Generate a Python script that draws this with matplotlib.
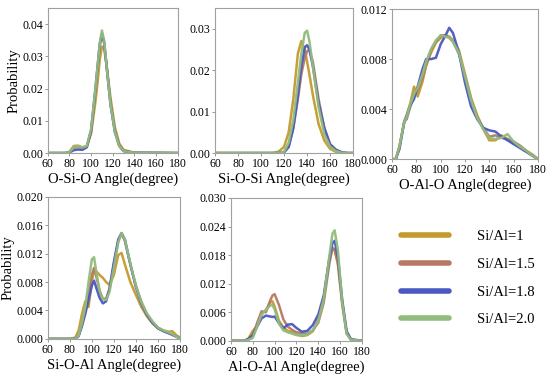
import matplotlib
matplotlib.use("Agg")
import matplotlib.pyplot as plt
from matplotlib.lines import Line2D

plt.rcParams["font.family"] = ["Liberation Serif", "DejaVu Serif"]

series_labels = ["Si/Al=1", "Si/Al=1.5", "Si/Al=1.8", "Si/Al=2.0"]
series_colors = ["#C49A2C", "#B47A66", "#4A58C2", "#92BC7E"]

# O-Si-O
osio_x = [60, 70, 76, 80, 84, 88, 92, 96, 100, 104, 106, 108, 110, 112, 114, 118, 122, 126, 130, 140, 180]
osio_y = [
    [0, 0, 0, 0.0004, 0.0022, 0.0023, 0.0018, 0.0021, 0.006, 0.016, 0.022, 0.029, 0.033, 0.0325, 0.028, 0.017, 0.008, 0.003, 0.001, 0.0001, 0],
    [0, 0, 0, 0.0003, 0.0016, 0.0019, 0.0015, 0.0020, 0.0068, 0.019, 0.026, 0.033, 0.037, 0.034, 0.028, 0.015, 0.0068, 0.0024, 0.0007, 0.0001, 0],
    [0, 0, 0, 0.0002, 0.0009, 0.0011, 0.0010, 0.0018, 0.0070, 0.020, 0.027, 0.034, 0.037, 0.0345, 0.028, 0.015, 0.0065, 0.0022, 0.0006, 0.0001, 0],
    [0, 0, 0, 0.0003, 0.0018, 0.0021, 0.0017, 0.0022, 0.0075, 0.020, 0.027, 0.034, 0.038, 0.035, 0.028, 0.015, 0.0065, 0.0022, 0.0006, 0.0001, 0],
]

# Si-O-Si
siosi_x = [60, 110, 115, 120, 124, 128, 132, 135, 138, 140, 142, 145, 150, 155, 160, 165, 170, 175, 180]
siosi_y = [
    [0, 0, 0.0003, 0.0015, 0.005, 0.013, 0.024, 0.027, 0.025, 0.022, 0.019, 0.014, 0.007, 0.003, 0.001, 0.0003, 0, 0, 0],
    [0, 0, 0, 0.0002, 0.0015, 0.006, 0.013, 0.019, 0.023, 0.0245, 0.025, 0.022, 0.013, 0.006, 0.0022, 0.0008, 0.0002, 0, 0],
    [0, 0, 0, 0.0002, 0.0015, 0.006, 0.014, 0.021, 0.0255, 0.026, 0.025, 0.021, 0.012, 0.006, 0.002, 0.0008, 0.0002, 0, 0],
    [0, 0, 0, 0.0003, 0.0025, 0.008, 0.017, 0.024, 0.029, 0.0295, 0.027, 0.021, 0.011, 0.0045, 0.0015, 0.0005, 0.0001, 0, 0],
]

# O-Al-O
oalo_x = [60, 63, 66, 70, 72, 75, 78, 81, 85, 88, 92, 96, 100, 104, 107, 110, 115, 120, 125, 130, 135, 140, 145, 150, 155, 160, 165, 170, 175, 180]
oalo_y = [
    [0, 0, 0.001, 0.003, 0.0035, 0.0045, 0.0058, 0.005, 0.0062, 0.0075, 0.0085, 0.0093, 0.0097, 0.0099, 0.0098, 0.0095, 0.0087, 0.0068, 0.0049, 0.0035, 0.0024, 0.0015, 0.0015, 0.0019, 0.0016, 0.0013, 0.0010, 0.0007, 0.0004, 0],
    [0, 0, 0.001, 0.003, 0.0032, 0.0042, 0.0052, 0.0055, 0.0065, 0.0075, 0.0087, 0.0094, 0.0099, 0.0099, 0.0097, 0.0094, 0.0084, 0.0066, 0.0047, 0.0034, 0.0025, 0.0018, 0.0019, 0.0017, 0.0016, 0.0014, 0.0011, 0.0007, 0.0003, 0],
    [0, 0, 0.0008, 0.003, 0.0035, 0.0043, 0.0048, 0.0058, 0.0072, 0.0080, 0.0080, 0.0081, 0.0092, 0.0099, 0.0105, 0.0101, 0.0085, 0.0061, 0.0042, 0.0032, 0.0025, 0.0023, 0.0022, 0.0018, 0.0015, 0.0012, 0.0009, 0.0006, 0.0003, 0],
    [0, 0, 0.001, 0.003, 0.0034, 0.0044, 0.0052, 0.0057, 0.0068, 0.0078, 0.0088, 0.0095, 0.0099, 0.0098, 0.0097, 0.0094, 0.0085, 0.0066, 0.0047, 0.0033, 0.0024, 0.0017, 0.0016, 0.0017, 0.0020, 0.0014, 0.0010, 0.0007, 0.0003, 0],
]

# Si-O-Al
sioal_x = [60, 80, 85, 88, 91, 94, 97, 100, 102, 104, 107, 110, 113, 116, 120, 124, 127, 130, 135, 140, 145, 150, 155, 160, 165, 170, 173, 177, 180]
sioal_y = [
    [0, 0, 0.0002, 0.0012, 0.0035, 0.0053, 0.0045, 0.0080, 0.0097, 0.0095, 0.0090, 0.0086, 0.0080, 0.0076, 0.0090, 0.0118, 0.0121, 0.0105, 0.0080, 0.0062, 0.0045, 0.0032, 0.0022, 0.0015, 0.0012, 0.0010, 0.0011, 0.0005, 0.0002],
    [0, 0, 0, 0.0005, 0.0020, 0.0040, 0.0065, 0.0090, 0.0100, 0.0088, 0.0068, 0.0056, 0.0057, 0.0070, 0.0105, 0.0138, 0.0148, 0.0138, 0.0105, 0.0075, 0.0052, 0.0035, 0.0024, 0.0016, 0.0011, 0.0008, 0.0006, 0.0003, 0.0001],
    [0, 0, 0, 0.0004, 0.0018, 0.0035, 0.0055, 0.0075, 0.0082, 0.0072, 0.0058, 0.0050, 0.0053, 0.0070, 0.0108, 0.0140, 0.0149, 0.0140, 0.0105, 0.0073, 0.0050, 0.0034, 0.0023, 0.0015, 0.0011, 0.0008, 0.0006, 0.0003, 0.0001],
    [0, 0, 0, 0.0005, 0.0022, 0.0045, 0.0080, 0.0112, 0.0115, 0.0095, 0.0068, 0.0056, 0.0055, 0.0066, 0.0100, 0.0136, 0.0149, 0.0140, 0.0106, 0.0075, 0.0052, 0.0036, 0.0025, 0.0016, 0.0012, 0.0009, 0.0007, 0.0003, 0.0001],
]

# Al-O-Al
aloal_x = [60, 72, 76, 80, 84, 88, 92, 96, 98, 100, 104, 108, 112, 116, 120, 125, 130, 135, 140, 145, 150, 153, 155, 158, 162, 166, 170, 180]
aloal_y = [
    [0, 0, 0.0005, 0.0021, 0.0032, 0.0055, 0.0065, 0.0080, 0.0083, 0.0072, 0.0042, 0.0028, 0.0021, 0.0018, 0.0013, 0.0010, 0.0012, 0.0020, 0.0045, 0.0090, 0.0170, 0.0195, 0.0192, 0.0160, 0.0075, 0.0015, 0.0002, 0],
    [0, 0, 0.0002, 0.0010, 0.0038, 0.0062, 0.0060, 0.0085, 0.0095, 0.0098, 0.0075, 0.0045, 0.0030, 0.0023, 0.0018, 0.0016, 0.0015, 0.0022, 0.0038, 0.0080, 0.0160, 0.0195, 0.0190, 0.0165, 0.0080, 0.0018, 0.0003, 0],
    [0, 0, 0.0004, 0.0012, 0.0030, 0.0047, 0.0053, 0.0051, 0.0050, 0.0051, 0.0037, 0.0026, 0.0034, 0.0035, 0.0027, 0.0019, 0.0021, 0.0033, 0.0055, 0.0095, 0.0170, 0.0205, 0.0210, 0.0175, 0.0085, 0.0020, 0.0003, 0],
    [0, 0, 0.0002, 0.0006, 0.0030, 0.0055, 0.0065, 0.0074, 0.0075, 0.0066, 0.0036, 0.0022, 0.0018, 0.0015, 0.0012, 0.0012, 0.0013, 0.0022, 0.0042, 0.0088, 0.0175, 0.0225, 0.0232, 0.0190, 0.0080, 0.0015, 0.0002, 0],
]

panels = [
    ("O-Si-O Angle(degree)", osio_x, osio_y, [0.0, 0.01, 0.02, 0.03, 0.04], 0.045, "{:.2f}", True),
    ("Si-O-Si Angle(degree)", siosi_x, siosi_y, [0.0, 0.01, 0.02, 0.03], 0.035, "{:.2f}", False),
    ("O-Al-O Angle(degree)", oalo_x, oalo_y, [0.0, 0.004, 0.008, 0.012], 0.012, "{:.3f}", False),
    ("Si-O-Al Angle(degree)", sioal_x, sioal_y, [0.0, 0.004, 0.008, 0.012, 0.016, 0.020], 0.020, "{:.3f}", True),
    ("Al-O-Al Angle(degree)", aloal_x, aloal_y, [0.0, 0.006, 0.012, 0.018, 0.024, 0.030], 0.030, "{:.3f}", False),
]

rects = [
    [0.087, 0.594, 0.236, 0.385],
    [0.391, 0.594, 0.251, 0.385],
    [0.713, 0.578, 0.265, 0.398],
    [0.087, 0.101, 0.240, 0.377],
    [0.420, 0.096, 0.238, 0.379],
]

fig = plt.figure(figsize=(5.5, 3.77), dpi=100)

for rect, (xlabel, xs, ys, yticks, ytop, fmt, show_ylabel) in zip(rects, panels):
    ax = fig.add_axes(rect)
    for vals, color in zip(ys, series_colors):
        ax.plot(xs, vals, color=color, lw=1.8, alpha=0.95)
    ax.set_xlim(60, 180)
    ax.set_ylim(0, ytop)
    ax.set_xticks(range(60, 181, 20))
    ax.set_yticks(yticks)
    ax.set_yticklabels([fmt.format(v) for v in yticks])
    ax.tick_params(labelsize=8.5, length=2, width=0.6, color="#888888", pad=1.5)
    for sp in ax.spines.values():
        sp.set_color("#A0A0A0")
        sp.set_linewidth(0.8)
    ax.set_xlabel(xlabel, fontsize=10.5, labelpad=2)
    if show_ylabel:
        ax.set_ylabel("Probability", fontsize=10.5, labelpad=1)

handles = [Line2D([0], [0], color=c, lw=4, solid_capstyle="round") for c in series_colors]
fig.legend(handles, series_labels, loc="upper left", bbox_to_anchor=(0.705, 0.425),
           frameon=False, fontsize=10.5, handlelength=3.3, handletextpad=1.9,
           labelspacing=1.0)

fig.savefig("out.png", dpi=100)
